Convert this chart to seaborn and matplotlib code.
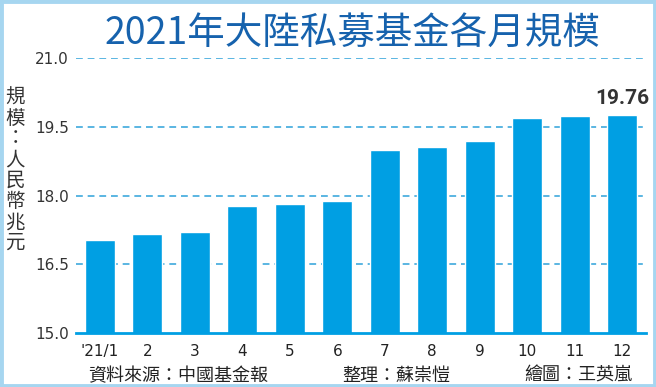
import numpy as np
import pandas as pd
import matplotlib
matplotlib.use("Agg")
import matplotlib.pyplot as plt
import seaborn as sns
from matplotlib.patches import Rectangle

# data (trillion RMB)
months = ["'21/1", "2", "3", "4", "5", "6", "7", "8", "9", "10", "11", "12"]
scale = [17.04, 17.16, 17.21, 17.78, 17.82, 17.88, 18.99, 19.05, 19.18, 19.70, 19.74, 19.76]
yticks = [15.0, 16.5, 18.0, 19.5, 21.0]

title = "2021年大陸私募基金各月規模"
ylabel = "規模：人民幣兆元"
source = "資料來源：中國基金報"
editor = "整理：蘇崇愷"
artist = "繪圖：王英嵐"

sns.set_style("white")
plt.rcParams['font.family'] = ['DejaVu Sans', 'Noto Sans CJK TC']
cjk = ['Noto Sans CJK TC', 'DejaVu Sans']

bar_color = "#009fe3"
grid_color = "#5ab6e2"
text_color = "#333333"

df = pd.DataFrame({"month": months, "value": scale})

fig = plt.figure(figsize=(6.56, 3.87), dpi=100)
ax = fig.add_axes([76 / 656, 1 - 333 / 387, 570 / 656, 275 / 387])

sns.barplot(data=df, x="month", y="value", color=bar_color, saturation=1,
            width=0.64, ax=ax, zorder=3)

ax.set_ylim(15, 21)
ax.set_xlim(-0.5, 11.5)
ax.set_yticks(yticks)
ax.set_yticklabels(["%.1f" % t for t in yticks])
for t in yticks[1:]:
    ax.axhline(t, color=grid_color, lw=1.4, ls=(0, (3.5, 2.5)), zorder=1)

for s in ["left", "right", "top"]:
    ax.spines[s].set_visible(False)
ax.spines["bottom"].set_color(bar_color)
ax.spines["bottom"].set_linewidth(2)
ax.spines["bottom"].set_zorder(4)

ax.tick_params(axis="y", length=0, pad=5, labelsize=11, labelcolor=text_color)
ax.tick_params(axis="x", length=4, width=1.5, color=bar_color, direction="out",
               pad=4, labelsize=11, labelcolor="#222222")
ax.set_xlabel("")
ax.set_ylabel("")

# last value label
ax.text(11, scale[-1] + 0.15, "%.2f" % scale[-1], ha="center", va="bottom",
        fontsize=15, fontweight="bold", color=text_color, family="Roboto")

fig.text(352 / 656, 1 - 33 / 387, title, ha="center", va="center",
         fontsize=27, fontweight="medium", color="#1662ad", family=cjk)

fig.text(15 / 656, 1 - 170 / 387, "\n".join(ylabel), ha="center", va="center",
         fontsize=14, color=text_color, family=cjk, linespacing=0.98)

fig.text(88 / 656, 1 - 376 / 387, source, ha="left", va="center",
         fontsize=13, color="#222222", family=cjk)
fig.text(342 / 656, 1 - 376 / 387, editor, ha="left", va="center",
         fontsize=13, color="#222222", family=cjk)
fig.text(524 / 656, 1 - 376 / 387, artist, ha="left", va="center",
         fontsize=13, color="#222222", family=cjk)

# light blue frame
fig.patches.append(Rectangle((0.002, 0.003), 0.996, 0.994, transform=fig.transFigure,
                             fill=False, edgecolor="#a6d6f0", lw=3.5))

fig.savefig("out.png", dpi=100)
